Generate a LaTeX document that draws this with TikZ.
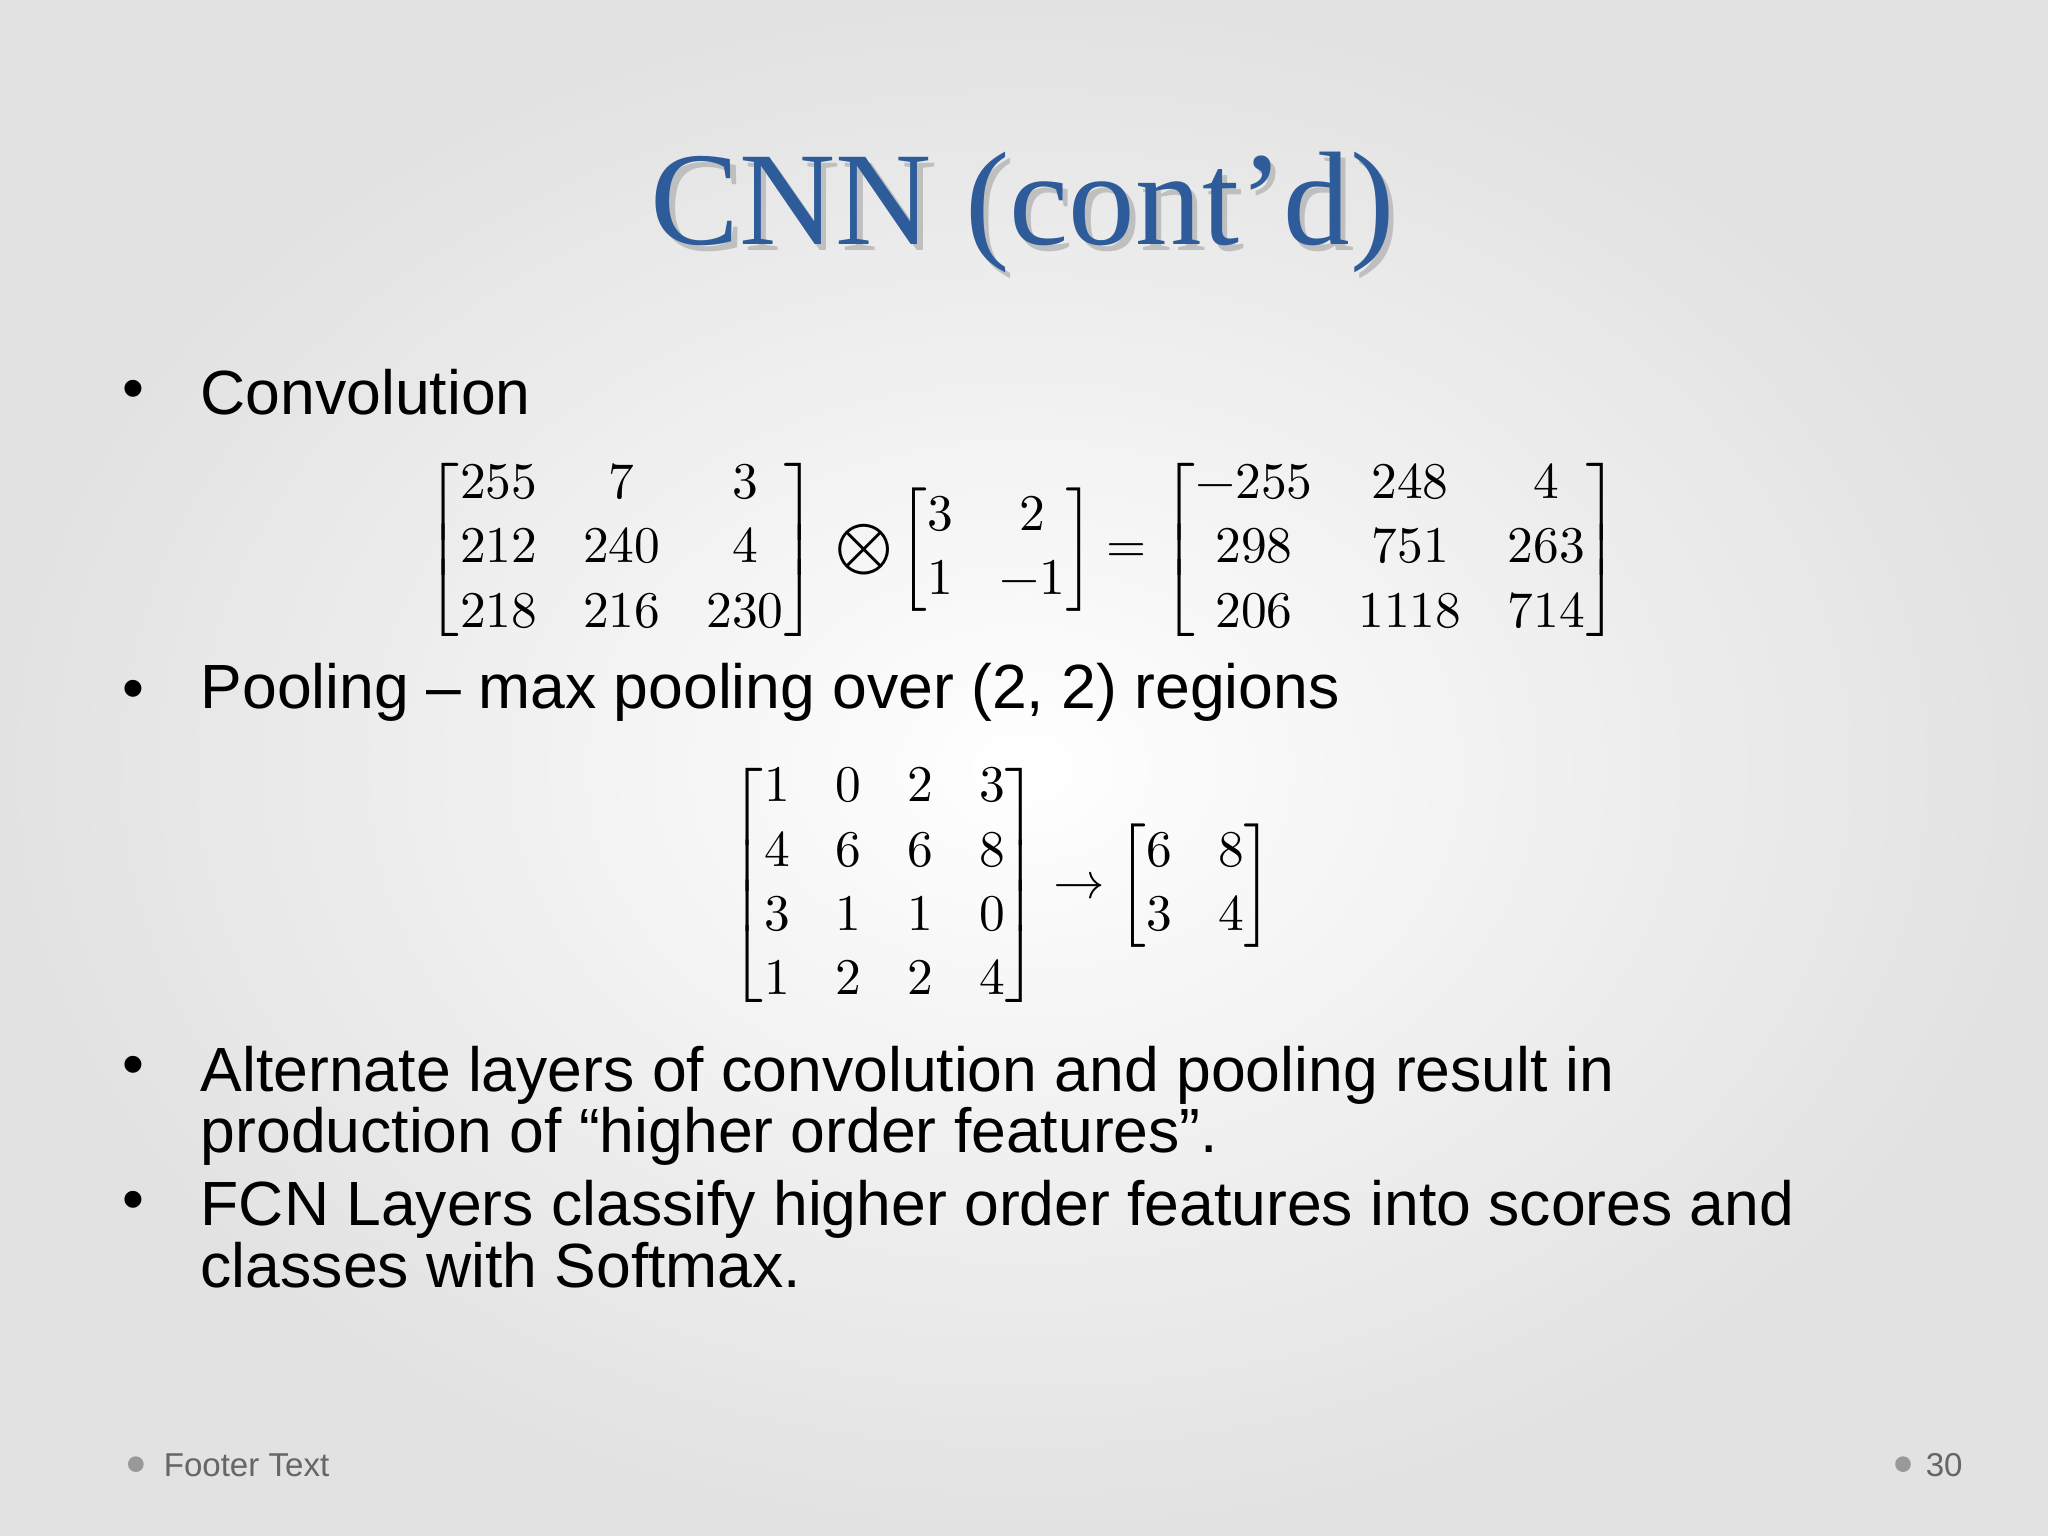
\documentclass[tikz,border=0pt]{standalone}
\usepackage{amsmath}
\usepackage{fontspec}
\setmainfont{Liberation Sans}
\newfontfamily\titlefont{Liberation Serif}
\usepackage{unicode-math}
\setmathfont{Latin Modern Math}
\definecolor{titleblue}{HTML}{2E5C9A}
\definecolor{bgedge}{HTML}{E2E2E2}
\tikzset{
  bul/.style={anchor=west,inner sep=0pt,font=\fontsize{13.6pt}{14pt}\selectfont,align=left},
  dot/.style={anchor=center,inner sep=0pt,font=\fontsize{13.6pt}{14pt}\selectfont},
  mat/.style={font=\fontsize{11.2pt}{14pt}\selectfont},
  foot/.style={anchor=west,text=gray!80!black,font=\fontsize{7.2pt}{8pt}\selectfont}
}
\begin{document}
\begin{tikzpicture}[x=0.01cm,y=-0.01cm]
\useasboundingbox (0,0) rectangle (1568,1176);
\shade[inner color=white,outer color=bgedge] (0,0) rectangle (1568,1176);
\node[text=black!25,font=\titlefont\fontsize{29pt}{30pt}\selectfont] at (787,167) {CNN (cont’d)};
\node (title) [text=titleblue,font=\titlefont\fontsize{29pt}{30pt}\selectfont] at (783,163) {CNN (cont’d)};
\node (d1) [dot] at (102,302) {•};
\node (b1) [bul] at (153,300) {Convolution};
\node (m1) [mat] at (783,421) {$\begin{bmatrix}255&7&3\\212&240&4\\218&216&230\end{bmatrix}\,{\textstyle\bigotimes}\begin{bmatrix}3&2\\1&-1\end{bmatrix}=\begin{bmatrix}-255&248&4\\298&751&263\\206&1118&714\end{bmatrix}$};
\node (d2) [dot] at (102,532) {•};
\node (b2) [bul] at (153,530) {Pooling – max pooling over (2, 2) regions};
\node (m2) [mat] at (766,678) {$\begin{bmatrix}1&0&2&3\\4&6&6&8\\3&1&1&0\\1&2&2&4\end{bmatrix}\rightarrow\begin{bmatrix}6&8\\3&4\end{bmatrix}$};
\node (d3) [dot] at (102,820) {•};
\node (b3) [bul,anchor=north west] at (153,800) {\parbox[t]{13cm}{\baselineskip=0.47cm Alternate layers of convolution and pooling result in\\production of “higher order features”.}};
\node (d4) [dot] at (102,923) {•};
\node (b4) [bul,anchor=north west] at (153,903) {\parbox[t]{13cm}{\baselineskip=0.47cm FCN Layers classify higher order features into scores and\\classes with Softmax.}};
\fill[gray!80] (104,1121) circle (6);
\node (ft) [foot] at (113,1122) {Footer Text};
\fill[gray!80] (1457,1121) circle (6);
\node (pn) [foot] at (1462,1122) {30};
\end{tikzpicture}
\end{document}
